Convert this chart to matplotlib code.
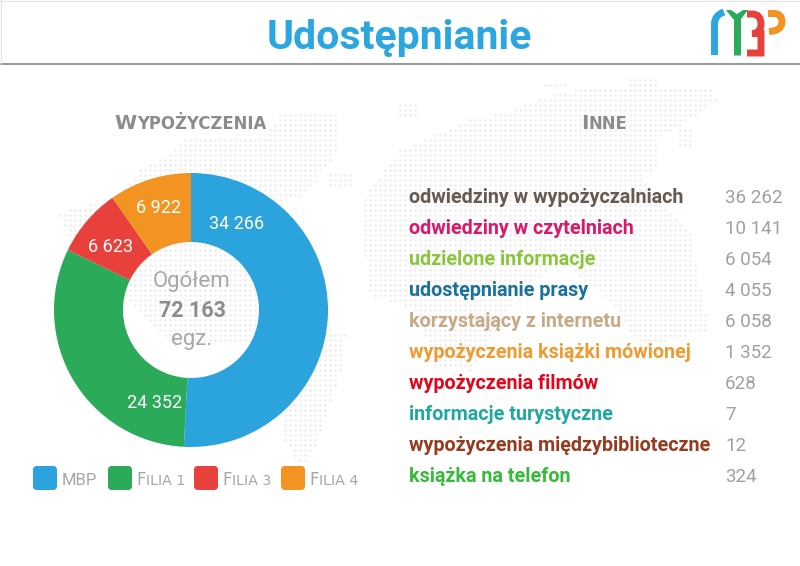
import numpy as np
import matplotlib
matplotlib.use("Agg")
import matplotlib.pyplot as plt
from matplotlib.patches import FancyBboxPatch, PathPatch
from matplotlib.path import Path

# dane wykresu
kategorie = ["MBP", "Filia 1", "Filia 3", "Filia 4"]
etykiety_kola = ["34 266", "24 352", "6 623", "6 922"]
# na obrazku wycinki nie sa proporcjonalne do liczb, katy
katy_wycinkow = [183, 113, 29, 35]
kolory_kola = ["#2ba3dc", "#2baa5a", "#e8403a", "#f39422"]
ogolem = "72 163"

inne_nazwy = [
    "odwiedziny w wypożyczalniach",
    "odwiedziny w czytelniach",
    "udzielone informacje",
    "udostępnianie prasy",
    "korzystający z internetu",
    "wypożyczenia książki mówionej",
    "wypożyczenia filmów",
    "informacje turystyczne",
    "wypożyczenia międzybiblioteczne",
    "książka na telefon",
]
inne_wartosci = ["36 262", "10 141", "6 054", "4 055", "6 058",
                 "1 352", "628", "7", "12", "324"]
inne_kolory = ["#67594f", "#d9186a", "#8bc53f", "#1a7199", "#c6aa86",
               "#f09a32", "#e2061c", "#1fa8a0", "#963c1e", "#35ba3a"]

# tlo: zarys mapy swiata w pikselach (kropki sa dosc blade)
mapa = [
    [(280, 113), (340, 113), (337, 150), (326, 168), (298, 200), (283, 195), (270, 172),
     (322, 290), (250, 340), (175, 345), (120, 290), (70, 240), (58, 213), (120, 195),
     (140, 170), (170, 153), (190, 135), (235, 135), (262, 140)],
    [(330, 173), (352, 173), (352, 186), (330, 186)],
    [(315, 322), (345, 335), (340, 370), (317, 443), (302, 466), (285, 440), (280, 405)],
    [(400, 150), (470, 120), (503, 113), (537, 100), (577, 88), (633, 90), (713, 87),
     (715, 100), (683, 125), (657, 137), (657, 165), (640, 178), (662, 205), (690, 235),
     (708, 330), (640, 346), (610, 300), (560, 262), (520, 290), (470, 370), (435, 368),
     (415, 310), (367, 292), (362, 200)],
    [(400, 103), (418, 103), (418, 117), (400, 117)],
    [(543, 80), (567, 80), (567, 88), (543, 88)],
    [(627, 80), (657, 77), (657, 88), (627, 88)],
    [(677, 127), (690, 127), (690, 147), (677, 147)],
]

plt.rcParams["font.family"] = ["Roboto", "DejaVu Sans"]
fig = plt.figure(figsize=(8, 5.66), dpi=100, facecolor="white")
renderer = fig.canvas.get_renderer()

# warstwa tla
ax_tlo = fig.add_axes([0, 0, 1, 1], zorder=0)
ax_tlo.set_xlim(0, 800)
ax_tlo.set_ylim(566, 0)
ax_tlo.axis("off")

xx, yy = np.meshgrid(np.arange(50, 790, 5.0), np.arange(75, 475, 5.0))
siatka = np.c_[xx.ravel(), yy.ravel()]
for ksztalt in mapa:
    kropki = siatka[Path(ksztalt).contains_points(siatka)]
    ax_tlo.scatter(kropki[:, 0], kropki[:, 1], s=4, color="#efefef", linewidths=0)

# kolo
srodek_x, srodek_y, promien = 191, 310, 137
ax_kolo = fig.add_axes([(srodek_x - promien) / 800, 1 - (srodek_y + promien) / 566,
                        2 * promien / 800, 2 * promien / 566], zorder=1)
ax_kolo.pie(katy_wycinkow, colors=kolory_kola, startangle=90, counterclock=False,
            radius=1, wedgeprops={"width": 69 / 137, "linewidth": 0})
ax_kolo.set_xlim(-1, 1)
ax_kolo.set_ylim(-1, 1)
ax_kolo.patch.set_alpha(0)

# warstwa tekstu
ax = fig.add_axes([0, 0, 1, 1], zorder=2)
ax.set_xlim(0, 800)
ax.set_ylim(566, 0)
ax.axis("off")
ax.patch.set_alpha(0)

# naglowek
ax.text(399.5, 49, "Udostępnianie", color="#2ba6de", fontsize=29.5, fontweight="bold",
        ha="center", va="baseline")
ax.plot([0, 800], [64, 64], color="#9a9a9a", lw=1.5)
ax.plot([0, 800], [0.5, 0.5], color="#e4e4e4", lw=0.8)
ax.plot([0.5, 0.5], [0, 64], color="#e4e4e4", lw=0.8)

# logo
gr = 5.0
P = Path
logo = [
    ("#2ba6de", [(714.5, 55), (714.5, 24), (714.5, 15), (724, 12)], [P.MOVETO, P.LINETO, P.CURVE3, P.CURVE3]),
    ("#2baa5a", [(737, 55), (737, 18)], [P.MOVETO, P.LINETO]),
    ("#e8403a", [(747, 14), (752, 14), (761, 14), (761, 24), (761, 33.5), (752, 33.5), (761, 33.5),
                 (761, 44), (761, 53), (752, 53), (747, 53)],
     [P.MOVETO, P.LINETO, P.CURVE3, P.CURVE3, P.CURVE3, P.CURVE3, P.LINETO, P.CURVE3, P.CURVE3, P.CURVE3, P.CURVE3]),
    ("#f39422", [(768, 13.5), (774, 13.5), (782, 13.5), (782, 22), (782, 31), (769, 31.5)],
     [P.MOVETO, P.LINETO, P.CURVE3, P.CURVE3, P.CURVE3, P.CURVE3]),
]
for kolor, punkty, kody in logo:
    ax.add_patch(PathPatch(Path(punkty, kody), fc="none", ec=kolor, lw=gr, capstyle="butt"))
ax.fill([726, 731, 737, 743, 748, 741, 733], [10, 10, 14, 10, 10, 19, 19], color="#2baa5a", lw=0)


def kapitaliki(x, y, tekst, duza, mala, **kw):
    # pierwsza litera wieksza, reszta wersalikami, na wspolnej linii bazowej
    t = ax.text(x, y, tekst[0].upper(), fontsize=duza, va="baseline", ha="left", **kw)
    szer = t.get_window_extent(renderer).width
    ax.text(x + szer + 0.5, y, tekst[1:].upper(), fontsize=mala, va="baseline", ha="left", **kw)


# tytuly kolumn, DejaVu jest szerszy i lepiej pasuje do rozstrzelonych kapitalikow
kapitaliki(114, 129, "Wypożyczenia", 14.5, 11.9, color="#8c8c8c", fontweight="bold", family="DejaVu Sans")
kapitaliki(581, 129, "Inne", 14.5, 11.9, color="#8c8c8c", fontweight="bold", family="DejaVu Sans")

# opisy wycinkow
poz_etykiet = [(237, 224), (155, 403), (110, 247), (158, 208)]
for tekst, (x, y) in zip(etykiety_kola, poz_etykiet):
    ax.text(x, y, tekst, color="white", fontsize=13, ha="center", va="center")

ax.text(192, 282, "Ogółem", color="#a8a8a8", fontsize=16, ha="center", va="center")
ax.text(192, 311, ogolem, color="#8c8c8c", fontsize=15.5, fontweight="bold", ha="center", va="center")
ax.text(192, 340, "egz.", color="#a8a8a8", fontsize=16, ha="center", va="center")

# legenda
leg_x = [33, 108, 194, 281]
leg_tekst_x = [62, 136, 222, 309]
for nazwa, kolor, x, tx in zip(kategorie, kolory_kola, leg_x, leg_tekst_x):
    ax.add_patch(FancyBboxPatch((x + 3, 469), 18, 18, boxstyle="round,pad=3,rounding_size=4",
                                fc=kolor, ec="none"))
    if nazwa == "MBP":
        ax.text(tx, 485, nazwa, color="#a6a6a6", fontsize=12, va="baseline")
    else:
        kapitaliki(tx, 485, nazwa, 12, 10.3, color="#a6a6a6", family="DejaVu Sans")

# lista po prawej
wiersze_y = 203 + 31 * np.arange(len(inne_nazwy))
for nazwa, wartosc, kolor, y in zip(inne_nazwy, inne_wartosci, inne_kolory, wiersze_y):
    ax.text(409, y, nazwa, color=kolor, fontsize=14.2, fontweight="bold", va="baseline", ha="left")
    ax.text(725, y, wartosc, color="#a0a0a0", fontsize=13.5, va="baseline", ha="left")

fig.savefig("out.png", dpi=100)
